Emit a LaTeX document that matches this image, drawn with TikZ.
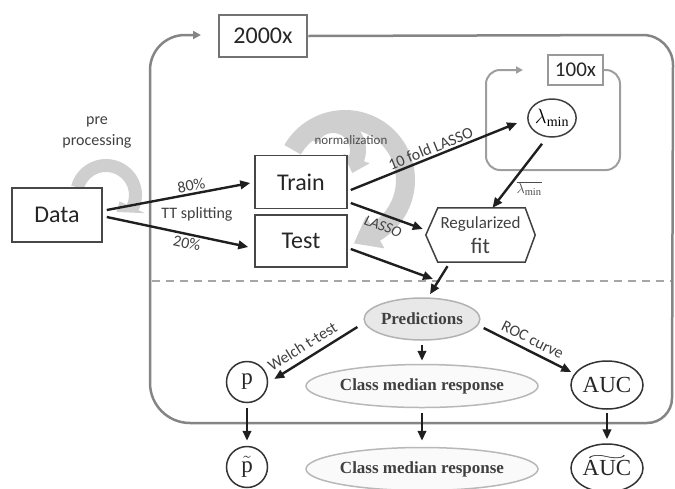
\documentclass[tikz,border=0pt]{standalone}
\usepackage{fontspec}
\usepackage{graphicx}
\setmainfont{Liberation Serif}
\newfontfamily\carl{Carlito}
\usetikzlibrary{arrows.meta,calc,shapes.geometric}
\newcommand{\wtil}[1]{{\setbox0=\hbox{#1}\makebox[\wd0][c]{\raisebox{15pt}[0pt][0pt]{\resizebox{0.85\wd0}{5pt}{$\sim$}}}\llap{\box0}}}
\begin{document}
\begin{tikzpicture}[x=1pt,y=-1pt,
  arr/.style={line width=2.4pt, draw=black!88, -{Triangle[length=10pt,width=8.5pt]}},
  rarr/.style={line width=2.4pt, draw=black!88, {Triangle[length=10pt,width=8.5pt]}-},
  sbox/.style={draw=black!72, line width=1.5pt, fill=white, inner sep=0pt, text=black!85, font=\carl\fontsize{24}{28}\selectfont},
  lbl/.style={font=\carl\fontsize{16}{19}\selectfont, text=black!75, inner sep=2pt},
  gshape/.style={fill=black!19},
  bigframe/.style={draw=black!48, line width=2.5pt, -{Triangle[length=8pt,width=8pt]}},
  smallframe/.style={draw=black!38, line width=2pt, -{Triangle[length=7pt,width=7pt]}},
  sell/.style={ellipse, inner sep=0pt, line width=1.5pt, font=\fontsize{17}{20}\selectfont\bfseries, text=black!75},
  mcirc/.style={draw=black!80, line width=1.5pt, inner sep=0pt, font=\fontsize{23}{26}\selectfont, text=black!85},
]
\useasboundingbox (0,0) rectangle (675,488);

% gray curved block arrows
\coordinate (pc) at (106,195);
\fill[gshape] ($(pc)+(195:36)$) arc[start angle=195,end angle=385,radius=36]
  -- ($(pc)+(385:43)$) -- ($(pc)+(418:20)$) -- ($(pc)+(385:15)$) -- ($(pc)+(385:23)$)
  arc[start angle=385,end angle=195,radius=23] -- cycle;
\coordinate (nc) at (345,180);
\fill[gshape] ($(nc)+(210:70)$) arc[start angle=210,end angle=420,radius=70]
  -- ($(nc)+(420:79)$) -- ($(nc)+(442:64)$) -- ($(nc)+(420:42)$) -- ($(nc)+(420:51)$)
  arc[start angle=420,end angle=210,radius=51] -- cycle;
\coordinate (nc2) at (333,150);
\fill[gshape] ($(nc2)+(205:33)$) arc[start angle=205,end angle=380,radius=33]
  -- ($(nc2)+(380:39)$) -- ($(nc2)+(410:30)$) -- ($(nc2)+(380:11)$) -- ($(nc2)+(380:17)$)
  arc[start angle=380,end angle=205,radius=17] -- cycle;

% boxes
\node[sbox, minimum width=90pt, minimum height=54pt] (data) at (57,215) {Data};
\node[sbox, minimum width=92pt, minimum height=53pt] (train) at (301,182) {Train};
\node[sbox, minimum width=92pt, minimum height=52pt] (test) at (301,241) {Test};
\node[sbox, draw=black!55, line width=2.5pt, minimum width=88pt, minimum height=42pt] (k2000) at (263,36) {2000x};
\node[sbox, draw=black!40, line width=2pt, minimum width=55pt, minimum height=30pt, font=\carl\fontsize{21}{24}\selectfont] (k100) at (575.5,70) {100x};

% frames
\draw[bigframe] (k2000.east) -- (643,35) arc[start angle=-90,end angle=0,radius=30]
  -- (672,398) arc[start angle=0,end angle=90,radius=25]
  -- (190,423) arc[start angle=90,end angle=180,radius=40]
  -- (150,70) arc[start angle=180,end angle=270,radius=35] -- (201,35);
\draw[smallframe] (k100.east) -- (606,70) arc[start angle=-90,end angle=0,radius=14]
  -- (620,156) arc[start angle=0,end angle=90,radius=14]
  -- (500,170) arc[start angle=90,end angle=180,radius=14]
  -- (486,84) arc[start angle=180,end angle=270,radius=14] -- (523,70);
\draw[black!35, line width=1.5pt, dash pattern=on 8pt off 6pt] (152,281) -- (671,281);

% other nodes
\node[ellipse, draw=black!75, line width=1.5pt, minimum width=48pt, minimum height=38pt, inner sep=0pt, font=\fontsize{20}{24}\selectfont] (lam) at (552,118) {$\lambda_{\mathrm{min}}$};
\node[align=center, minimum width=109pt, minimum height=54pt, inner sep=0pt, text=black!75, font=\carl\fontsize{17}{25}\selectfont] (fit) at (480.5,235) {Regularized\\{\fontsize{22}{25}\selectfont fit}};
\draw[black!75, line width=1.5pt] ($(fit.north west)+(12,0)$) -- ($(fit.north east)+(-10,0)$) -- (fit.east)
  -- ($(fit.south east)+(-10,0)$) -- ($(fit.south west)+(12,0)$) -- (fit.west) -- cycle;
\node[sell, draw=black!30, fill=black!9, minimum width=106pt, minimum height=42pt] (pred) at (422,319) {Predictions};
\node[sell, draw=black!28, fill=black!2, minimum width=184pt, minimum height=43pt] (cmr1) at (422,386) {Class median response};
\node[sell, draw=black!28, fill=black!2, minimum width=184pt, minimum height=43pt] (cmr2) at (422,469) {Class median response};
\node[mcirc, circle, minimum size=41pt] (p) at (247,382) {p};
\node[mcirc, circle, minimum size=41pt] (pt) at (247,467) {$\tilde{\mathrm{p}}$};
\node[mcirc, ellipse, minimum width=72pt, minimum height=48pt] (auc) at (607,385) {AUC};
\node[mcirc, ellipse, minimum width=72pt, minimum height=48pt] (auc2) at (607,468) {\wtil{AUC}};

% free labels
\node[lbl, align=center, font=\carl\fontsize{16}{21}\selectfont] (pre) at (97,132) {pre\\processing};
\node[lbl, font=\carl\fontsize{13}{15}\selectfont, text=black!70] (norm) at (351,140) {normalization};
\node[lbl] (tts) at (197,214) {TT splitting};

% connectors
\draw[arr] ($(data.east)+(4,-5)$) -- node[lbl, sloped, above, pos=0.6] {80\%} ($(train.west)+(-4,1)$);
\draw[arr] ($(data.east)+(4,2)$) -- node[lbl, sloped, below, pos=0.58] {20\%} ($(test.west)+(-6,6)$);
\draw[arr] ($(train.east)+(3,8)$) -- node[lbl, sloped, above, pos=0.5] {10 fold LASSO} ($(lam.west)+(-10,5)$);
\draw[arr] ($(train.east)+(3,21)$) -- node[lbl, sloped, below=3pt, pos=0.5, font=\carl\itshape\fontsize{15}{18}\selectfont] {LASSO} ($(fit.west)+(-3,-6)$);
\coordinate (tend) at (433,279);
\draw[arr] ($(test.east)+(3,8)$) -- (tend);
\draw[arr] ($(lam.south)+(-10,6)$) -- node[pos=0.7, right=8pt, font=\fontsize{15}{18}\selectfont, text=black!70, inner sep=0pt] {$\overline{\lambda_{\mathrm{min}}}$} ($(fit.north)+(12,0)$);
\draw[arr] ($(fit.south)+(-33,4)$) -- ($(pred.north)+(8,-3)$);
\draw[rarr] ($(p.east)+(6,-3)$) -- node[lbl, sloped, above=4pt, pos=0.42] {Welch t-test} ($(pred.west)+(-6,8)$);
\draw[arr] ($(pred.east)+(3,9)$) -- node[lbl, sloped, above=3pt, pos=0.5] {ROC curve} ($(auc.west)+(1,-13)$);
\draw[arr] ($(pred.south)+(0,4)$) -- ($(cmr1.north)+(0,-3)$);
\draw[arr] ($(cmr1.south)+(0,5)$) -- ($(cmr2.north)+(0,-6)$);
\draw[arr] ($(p.south)+(0,5)$) -- ($(pt.north)+(0,-5)$);
\draw[arr] ($(auc.south)+(0,3)$) -- ($(auc2.north)+(0,-4)$);
\end{tikzpicture}
\end{document}
